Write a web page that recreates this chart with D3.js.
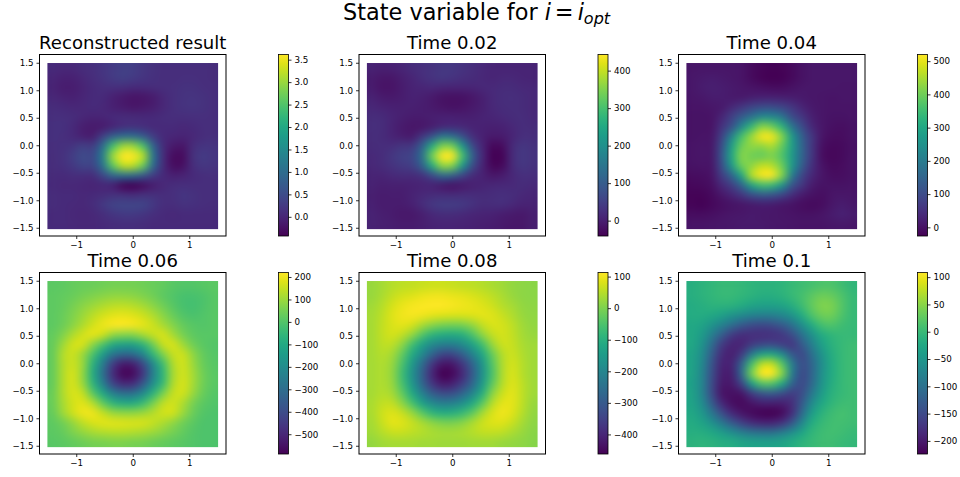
<!DOCTYPE html>
<html>
<head>
<meta charset="utf-8">
<script src="https://cdn.jsdelivr.net/npm/d3@7"></script>
<style>
body { margin: 0; background: #fff; }
text { font-family: "DejaVu Sans", sans-serif; fill: #000; }
.axis text { font-size: 8.7px; }
.axis path, .axis line { stroke: #000; stroke-width: 0.8; }
</style>
</head>
<body>
<div class="chart"></div>
<script>
const titles = ["Reconstructed result", "Time 0.02", "Time 0.04", "Time 0.06", "Time 0.08", "Time 0.1"];
const xTicks = [-1, 0, 1];
const yTicks = [-1.5, -1, -0.5, 0, 0.5, 1, 1.5];

const barDomains = [[-0.427, 3.615], [-41, 443], [-26, 520], [-588, 220], [-462, 113], [-224, 108.5]];
const barTicks = [
    [0, 0.5, 1, 1.5, 2, 2.5, 3, 3.5],
    [0, 100, 200, 300, 400],
    [0, 100, 200, 300, 400, 500],
    [-500, -400, -300, -200, -100, 0, 100, 200],
    [-400, -300, -200, -100, 0, 100],
    [-200, -150, -100, -50, 0, 50, 100]
];

// rows run from y = 1.5 (top) to y = -1.5, columns from x = -1.5 to x = 1.5
const reconstructed = [
    [.05,.03,.03,.08,.12,.2,.28,.32,.3,.22,.15,.1,.1,.1,.1,.1,.08],
    [0,-.05,-.05,.03,.1,.18,.28,.32,.28,.2,.13,.1,.1,.12,.12,.1,.08],
    [-.03,-.1,-.1,-.02,.06,.1,.12,.1,.05,.05,.08,.1,.12,.15,.15,.12,.1],
    [.03,-.03,-.05,0,.06,.05,-.05,-.15,-.22,-.2,-.12,.02,.12,.17,.18,.15,.1],
    [.08,.06,.03,.03,.06,.02,-.05,-.12,-.17,-.15,-.08,.02,.12,.17,.18,.15,.1],
    [.12,.12,.08,.02,-.02,0,.05,.08,.07,.05,.05,.08,.1,.1,.12,.12,.1],
    [.14,.14,.06,-.08,-.15,-.12,0,.12,.15,.12,.06,.05,.05,.03,.05,.1,.1],
    [.14,.12,.05,-.05,-.08,.35,.8,1,1,.75,.3,.05,0,-.03,.03,.1,.12],
    [.12,.13,.2,.35,.3,1,2.4,3,3,2.5,.9,.1,-.15,-.18,.1,.2,.18],
    [.1,.15,.3,.5,.45,1.3,3,3.6,3.6,3.2,1.2,.12,-.3,-.3,.15,.28,.2],
    [.1,.13,.25,.4,.4,1.1,2.6,3.2,3.2,2.7,1,.1,-.28,-.25,.12,.22,.18],
    [.07,.06,.1,.1,.1,.45,.9,1.05,1,.7,.3,.05,-.05,-.02,.06,.1,.12],
    [.06,.03,.03,0,-.02,0,-.05,-.35,-.4,-.3,-.1,.03,.1,.12,.1,.1,.1],
    [.08,.06,.05,.02,.05,.1,.15,.15,.1,.15,.15,.1,.12,.2,.15,.1,.1],
    [.08,.06,.04,.03,.08,.25,.38,.42,.42,.4,.25,.1,.1,.15,.13,.1,.08],
    [.06,.05,.03,0,.02,.1,.2,.25,.25,.2,.12,.05,.03,.05,.05,.06,.06],
    [.06,.05,.04,.03,.03,.05,.08,.1,.1,.08,.06,.05,.05,.05,.05,.05,.05]
];
const time002 = [
    [5,2,3,10,18,25,30,35,35,30,22,15,10,8,8,8,8],
    [-5,-12,-12,0,10,22,30,35,32,25,18,12,10,12,12,10,8],
    [-3,-15,-15,-5,5,10,12,10,8,8,10,12,14,18,18,15,12],
    [5,-5,-8,-2,3,2,-8,-18,-22,-20,-12,2,14,20,22,18,12],
    [12,8,4,2,2,-2,-8,-14,-18,-16,-8,2,12,18,20,18,12],
    [20,18,10,2,-4,-4,0,4,4,2,2,6,10,14,18,20,15],
    [22,20,8,-6,-14,-12,0,12,16,14,8,3,2,4,12,20,18],
    [20,18,10,0,-4,35,85,150,135,80,25,3,-8,-5,10,25,22],
    [18,20,25,35,40,110,260,350,340,220,70,10,-30,-25,18,35,28],
    [15,20,35,50,60,140,340,443,443,300,110,15,-38,-35,20,38,30],
    [12,18,30,42,50,110,260,360,350,220,75,8,-32,-28,18,35,28],
    [8,8,15,18,18,30,70,125,110,60,20,5,-10,-5,12,25,22],
    [5,0,2,2,3,5,5,-8,-15,-8,2,8,12,15,15,18,15],
    [2,-5,-3,-2,5,15,20,22,20,22,22,18,20,25,20,12,10],
    [3,-5,-5,-5,3,20,38,45,45,42,30,18,20,22,15,5,5],
    [5,0,-5,-10,-10,0,12,18,18,15,10,5,3,-2,-8,-10,0],
    [6,2,0,-5,-5,0,5,8,8,5,3,0,-3,-8,-12,-10,0]
];
const time004 = [
    [5,5,5,5,5,2,-10,-18,-22,-20,-12,0,8,8,8,8,8],
    [8,12,15,12,8,2,-10,-20,-26,-22,-12,0,8,8,8,6,6],
    [8,15,20,18,12,8,2,-2,-5,-5,0,8,8,8,6,5,5],
    [5,10,15,15,12,12,20,25,25,22,18,12,8,5,3,5,5],
    [2,3,6,12,35,60,85,100,100,85,60,30,12,5,2,2,3],
    [0,0,2,30,80,130,180,230,230,190,100,60,22,5,0,0,2],
    [0,0,3,55,110,230,340,420,400,330,190,100,35,8,-3,-5,0],
    [0,2,8,80,220,360,440,510,510,420,270,140,60,5,-8,-8,0],
    [2,5,10,105,280,400,430,430,450,390,280,150,60,-2,-15,-10,-2],
    [2,5,10,115,300,420,400,390,410,370,270,150,60,-5,-16,-10,0],
    [0,2,8,100,270,400,430,470,460,400,270,135,50,2,-12,-8,0],
    [-8,-5,2,70,150,300,460,515,520,420,210,90,35,5,-5,-5,0],
    [-15,-12,-3,35,75,150,290,350,340,260,120,60,15,0,0,0,2],
    [-20,-20,-10,10,30,60,100,125,115,85,45,15,0,-5,5,8,5],
    [-18,-22,-15,-5,0,5,12,18,15,8,0,-8,-12,-5,10,18,10],
    [-5,-5,-3,3,8,10,12,10,8,5,2,0,0,5,15,25,15],
    [2,2,5,8,10,12,12,12,10,8,5,2,2,3,8,10,8]
];
const time006 = [
    [15,20,30,35,40,45,50,50,50,45,35,25,10,5,5,10,15],
    [20,25,35,50,65,75,85,85,80,65,45,20,0,-15,-15,-5,10],
    [20,30,50,75,100,120,135,140,130,110,80,45,10,-15,-20,-5,10],
    [20,35,65,100,135,165,185,190,180,160,125,80,35,0,-10,0,10],
    [20,40,75,120,165,195,215,218,210,190,160,115,70,30,10,5,10],
    [25,65,120,165,190,160,90,70,70,110,150,170,110,55,20,10,10],
    [30,100,165,170,80,-10,-100,-130,-125,-70,40,150,170,105,45,12,5],
    [30,125,160,100,-10,-140,-270,-320,-310,-220,-60,60,150,160,85,30,8],
    [30,120,160,100,-70,-250,-440,-530,-520,-410,-210,-30,120,165,100,35,10],
    [30,120,170,90,-85,-280,-480,-575,-565,-460,-240,-60,110,165,110,45,12],
    [30,120,170,100,-60,-230,-420,-490,-480,-370,-190,-40,120,170,110,45,12],
    [35,120,175,150,20,-100,-230,-290,-280,-200,-70,55,150,165,95,35,8],
    [35,110,165,185,130,25,-60,-95,-95,-40,50,140,165,120,55,15,0],
    [30,100,160,200,200,150,100,85,85,100,130,165,165,100,40,5,-5],
    [20,45,90,140,170,185,185,180,175,170,150,120,85,45,15,-5,-5],
    [15,30,60,90,110,125,130,130,125,115,100,75,50,25,5,-5,-5],
    [10,15,25,40,50,55,60,60,55,50,40,30,20,10,0,-5,-5]
];
const time008 = [
    [25,35,50,55,60,65,70,70,65,60,55,50,40,30,20,15,12],
    [25,40,60,75,85,95,100,100,95,90,80,70,55,40,25,15,12],
    [30,50,75,95,105,110,113,112,108,100,95,85,70,50,35,20,15],
    [35,55,85,100,105,100,90,85,80,80,85,90,85,65,45,25,18],
    [35,60,80,90,75,40,10,-5,-10,-5,20,60,80,75,55,30,20],
    [35,60,75,60,20,-40,-90,-110,-115,-100,-50,15,60,75,60,35,25],
    [35,55,55,15,-60,-130,-190,-215,-215,-190,-130,-60,25,70,65,40,30],
    [35,50,35,-25,-110,-190,-280,-340,-340,-290,-210,-120,-20,50,70,45,30],
    [35,45,25,-50,-150,-260,-370,-430,-425,-370,-280,-160,-40,45,75,50,30],
    [35,45,20,-65,-170,-285,-400,-462,-450,-395,-300,-170,-50,45,80,50,30],
    [35,45,25,-55,-155,-270,-370,-420,-410,-355,-270,-150,-30,50,85,55,30],
    [35,50,35,-25,-115,-210,-290,-325,-320,-275,-200,-100,10,70,90,55,30],
    [40,60,60,15,-55,-130,-190,-215,-210,-175,-115,-35,50,90,90,55,25],
    [40,70,85,65,25,-35,-85,-105,-100,-75,-30,35,80,100,85,50,20],
    [35,65,90,85,65,40,15,0,-3,10,40,70,85,85,65,35,15],
    [30,50,65,65,55,50,40,35,35,40,50,60,60,55,40,25,10],
    [20,30,35,35,35,30,30,28,28,28,30,30,30,25,20,15,8]
];
const time010 = [
    [-15,-10,-5,0,0,-3,-8,-10,-10,-8,0,5,10,15,15,5,-5],
    [-15,-10,-5,0,0,-5,-10,-15,-15,-10,0,10,25,35,30,15,0],
    [-20,-15,-10,-10,-12,-20,-30,-35,-35,-30,-15,5,28,45,42,20,0],
    [-20,-20,-25,-35,-50,-65,-75,-80,-80,-70,-50,-20,15,35,35,15,0],
    [-25,-30,-50,-75,-105,-130,-145,-150,-145,-130,-100,-60,-20,10,15,5,0],
    [-25,-40,-80,-125,-165,-180,-180,-180,-178,-170,-145,-100,-55,-20,-5,0,0],
    [-25,-50,-105,-165,-190,-190,-165,-150,-148,-160,-170,-130,-80,-35,-10,0,5],
    [-30,-60,-125,-180,-195,-165,-85,-30,-25,-60,-130,-150,-100,-50,-15,0,5],
    [-30,-65,-135,-190,-190,-120,10,75,80,25,-80,-145,-115,-60,-20,0,5],
    [-30,-70,-140,-195,-195,-110,40,108,108,50,-80,-150,-115,-55,-20,0,5],
    [-35,-70,-145,-200,-200,-155,-40,15,15,-25,-115,-150,-110,-50,-15,0,5],
    [-30,-70,-145,-205,-210,-205,-165,-135,-130,-145,-165,-145,-90,-40,-10,0,5],
    [-30,-60,-125,-185,-210,-215,-205,-195,-195,-195,-180,-130,-65,-25,-5,5,5],
    [-25,-45,-90,-145,-185,-205,-215,-222,-224,-215,-180,-110,-40,-10,5,10,5],
    [-20,-30,-55,-90,-130,-160,-180,-190,-190,-175,-135,-70,-20,0,8,8,5],
    [-15,-15,-25,-40,-60,-80,-95,-100,-100,-85,-60,-30,-5,5,8,5,0],
    [-10,-8,-10,-15,-20,-28,-32,-35,-35,-30,-20,-8,0,5,5,0,-3]
];
const grids = [reconstructed, time002, time004, time006, time008, time010];

const axLefts = [39.5, 359, 678.5];
const axTops = [54.5, 272.5];
const axWidth = 186.5, axHeight = 181.5;
const barOffset = 239, barWidth = 10;

const svg = d3.select(".chart").append("svg")
    .attr("width", 960)
    .attr("height", 477)
    .style("display", "block");

const defs = svg.append("defs");

// title with the math part in oblique
const suptitle = svg.append("text")
    .attr("x", 343)
    .attr("y", 20)
    .attr("font-size", 22.4);
suptitle.append("tspan").text("State variable for");
suptitle.append("tspan").attr("dx", 7).attr("font-style", "italic").text("i");
suptitle.append("tspan").attr("dx", 4).text("=");
suptitle.append("tspan").attr("dx", 4).attr("font-style", "italic").text("i");
suptitle.append("tspan").attr("font-style", "italic").attr("font-size", 16).attr("dy", 4).text("opt");

// paint one grid into a smoothed picture
function heatmapUrl(grid, color, w, h) {
    const rows = grid.length, cols = grid[0].length;
    const small = document.createElement("canvas");
    small.width = cols;
    small.height = rows;
    const sctx = small.getContext("2d");
    grid.forEach((row, j) => row.forEach((v, i) => {
        sctx.fillStyle = color(v);
        sctx.fillRect(i, j, 1, 1);
    }));
    const big = document.createElement("canvas");
    big.width = w * 2;
    big.height = h * 2;
    const ctx = big.getContext("2d");
    ctx.imageSmoothingEnabled = true;
    ctx.imageSmoothingQuality = "high";
    ctx.drawImage(small, 0, 0, big.width, big.height);
    ctx.filter = "blur(5px)";
    ctx.drawImage(small, 0, 0, big.width, big.height);
    return big.toDataURL();
}

titles.forEach((title, k) => {
    const left = axLefts[k % 3], top = axTops[Math.floor(k / 3)];
    const g = svg.append("g").attr("transform", `translate(${left},${top})`);

    const xScale = d3.scaleLinear().domain([-1.65, 1.65]).range([0, axWidth]);
    const yScale = d3.scaleLinear().domain([-1.65, 1.65]).range([axHeight, 0]);
    const color = d3.scaleSequential(d3.interpolateViridis).domain(barDomains[k]);

    g.append("image")
        .attr("x", xScale(-1.51))
        .attr("y", yScale(1.495))
        .attr("width", xScale(1.51) - xScale(-1.51))
        .attr("height", yScale(-1.525) - yScale(1.495))
        .attr("preserveAspectRatio", "none")
        .attr("href", heatmapUrl(grids[k], color, 171, 166));

    g.append("rect")
        .attr("width", axWidth)
        .attr("height", axHeight)
        .attr("fill", "none")
        .attr("stroke", "#000")
        .attr("stroke-width", 1);

    g.append("g")
        .attr("class", "axis")
        .attr("transform", `translate(0,${axHeight})`)
        .call(d3.axisBottom(xScale).tickValues(xTicks).tickSizeOuter(0).tickSize(3).tickPadding(3).tickFormat(d3.format("d")))
        .call(a => a.select(".domain").remove());

    g.append("g")
        .attr("class", "axis")
        .call(d3.axisLeft(yScale).tickValues(yTicks).tickSizeOuter(0).tickSize(3).tickPadding(3).tickFormat(d3.format(".1f")))
        .call(a => a.select(".domain").remove());

    g.append("text")
        .attr("x", axWidth / 2)
        .attr("y", -5.5)
        .attr("text-anchor", "middle")
        .attr("font-size", 18.1)
        .text(title);

    // colorbar
    const barScale = d3.scaleLinear().domain(barDomains[k]).range([axHeight, 0]);
    const gradId = "viridis" + k;
    defs.append("linearGradient")
        .attr("id", gradId)
        .attr("x1", 0).attr("y1", 1).attr("x2", 0).attr("y2", 0)
        .selectAll("stop")
        .data(d3.range(0, 1.001, 0.05))
        .join("stop")
        .attr("offset", d => d)
        .attr("stop-color", d => d3.interpolateViridis(d));

    const bar = g.append("g").attr("transform", `translate(${barOffset},0)`);
    bar.append("rect")
        .attr("width", barWidth)
        .attr("height", axHeight)
        .attr("fill", `url(#${gradId})`)
        .attr("stroke", "#000")
        .attr("stroke-width", 0.8);
    bar.append("g")
        .attr("class", "axis")
        .attr("transform", `translate(${barWidth},0)`)
        .call(d3.axisRight(barScale).tickValues(barTicks[k]).tickSizeOuter(0).tickSize(3).tickPadding(3)
            .tickFormat(k === 0 ? d3.format(".1f") : d3.format("d")))
        .call(a => a.select(".domain").remove());
});
</script>
</body>
</html>
